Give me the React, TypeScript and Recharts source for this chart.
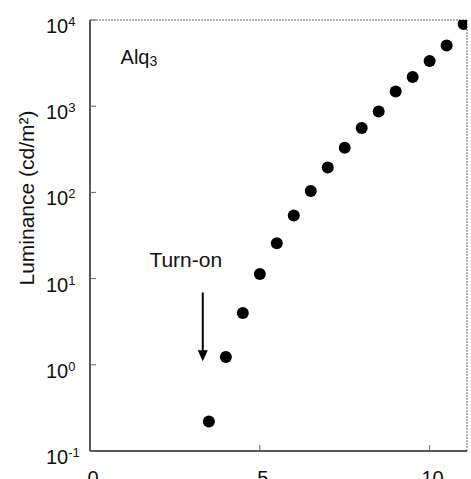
import { ReferenceDot, ReferenceLine, Scatter, ScatterChart, XAxis, YAxis } from "recharts"

const voltage = [3.5, 4, 4.5, 5, 5.5, 6, 6.5, 7, 7.5, 8, 8.5, 9, 9.5, 10, 10.5, 11]
const luminance = [0.22, 1.23, 4.0, 11.3, 25.7, 54, 104, 195, 330, 560, 870, 1480, 2180, 3340, 5060, 9000]

const xTicks = [0, 5, 10]
const yTicks = [0.1, 1, 10, 100, 1000, 10000]
const yExponents = ["-1", "0", "1", "2", "3", "4"]

const xMax = 11.1
const yMin = 0.1
const yMax = 10000

const data = voltage.map((v, i) => ({ v, L: luminance[i] }))

const font = "'Liberation Sans', Arial, sans-serif"

const XTick = (props: any) => {
  const { x, y, payload } = props
  return (
    <g>
      {payload.value !== 0 && <line x1={x} y1={y} x2={x} y2={y - 6} stroke="#666" />}
      <text x={x + 3} y={y + 34} textAnchor="middle" fontSize={20} fontFamily={font} fill="#111">
        {payload.value}
      </text>
    </g>
  )
}

const YTick = (props: any) => {
  const { x, y, payload, index } = props
  const exp = yExponents[yTicks.indexOf(payload.value)] ?? yExponents[index]
  return (
    <g>
      <line x1={x} y1={y} x2={x + 6} y2={y} stroke="#666" />
      <text x={x - 44} y={y + 13} fontSize={20} fontFamily={font} fill="#111">
        10
        <tspan dy={-7} fontSize={13}>
          {exp}
        </tspan>
      </text>
    </g>
  )
}

export default function App() {
  return (
    <div style={{ position: "absolute", left: 0, top: 0, background: "#fff" }}>
      <ScatterChart width={471} height={479} margin={{ top: 20, right: 4, bottom: 0, left: 0 }}>
        <XAxis
          dataKey="v"
          type="number"
          domain={[0, xMax]}
          ticks={xTicks}
          height={28}
          tickSize={0}
          tickMargin={0}
          tickLine={false}
          tick={<XTick />}
          axisLine={{ stroke: "#222", strokeWidth: 1.5 }}
          allowDataOverflow
        />
        <YAxis
          dataKey="L"
          type="number"
          scale="log"
          domain={[yMin, yMax]}
          ticks={yTicks}
          width={90}
          tickSize={0}
          tickMargin={0}
          tickLine={false}
          tick={<YTick />}
          axisLine={{ stroke: "#222", strokeWidth: 1.5 }}
          allowDataOverflow
          label={{
            content: () => (
              <text
                transform="translate(26,198) rotate(-90)"
                textAnchor="middle"
                dominantBaseline="central"
                fontSize={21}
                fontFamily={font}
                fill="#111"
              >
                Luminance (cd/m²)
              </text>
            ),
          }}
        />
        {/* top and right frame edges */}
        <ReferenceLine y={yMax} stroke="#666" strokeDasharray="2 1" />
        <ReferenceLine x={xMax} stroke="#666" strokeDasharray="2 1" />
        <Scatter
          data={data}
          isAnimationActive={false}
          shape={(p: any) => <circle cx={p.cx} cy={p.cy} r={6} fill="#000" />}
        />
        <ReferenceLine
          segment={[
            { x: 3.32, y: 6.9 },
            { x: 3.32, y: 1.1 },
          ]}
          shape={(p: any) => (
            <g>
              <line x1={p.x1} y1={p.y1} x2={p.x2} y2={p.y2 - 10} stroke="#000" strokeWidth={2} />
              <polygon
                points={`${p.x2 - 5},${p.y2 - 11} ${p.x2 + 5},${p.y2 - 11} ${p.x2},${p.y2}`}
                fill="#000"
              />
            </g>
          )}
        />
        <ReferenceDot
          x={2.82}
          y={13.5}
          r={0}
          shape={(p: any) => (
            <text x={p.cx} y={p.cy} textAnchor="middle" fontSize={21} fontFamily={font} fill="#111">
              Turn-on
            </text>
          )}
        />
        <ReferenceDot
          x={0.9}
          y={3080}
          r={0}
          shape={(p: any) => (
            <text x={p.cx} y={p.cy} fontSize={20} fontFamily={font} fill="#111">
              Alq
              <tspan dy={2} fontSize={14}>
                3
              </tspan>
            </text>
          )}
        />
      </ScatterChart>
    </div>
  )
}
